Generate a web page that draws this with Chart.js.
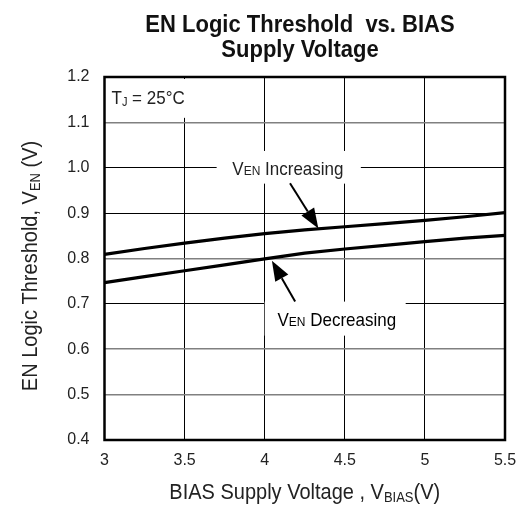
<!DOCTYPE html>
<html>
<head>
<meta charset="utf-8">
<script src="https://cdn.jsdelivr.net/npm/chart.js@4/dist/chart.umd.min.js"></script>
<style>
  html, body { margin: 0; padding: 0; background: #fff; }
  #wrap { width: 522px; height: 505px; position: relative; }
</style>
</head>
<body>
<div id="wrap"><canvas id="c" width="522" height="505"></canvas></div>
<script>
// ---- data ----
const biasVoltage = [3, 3.25, 3.5, 3.75, 4, 4.25, 4.5, 4.75, 5, 5.25, 5.5];
const venIncreasing = [0.809, 0.822, 0.834, 0.845, 0.855, 0.863, 0.870, 0.877, 0.884, 0.892, 0.901];
const venDecreasing = [0.747, 0.760, 0.773, 0.786, 0.799, 0.812, 0.821, 0.829, 0.837, 0.845, 0.851];
const xTickValues = [3, 3.5, 4, 4.5, 5, 5.5];
const yTickValues = [0.4, 0.5, 0.6, 0.7, 0.8, 0.9, 1.0, 1.1, 1.2];
const grayGridValues = [0.5, 0.6, 0.8, 1.1];

const FONT = '"Liberation Sans", Arial, sans-serif';
const STRETCH = 1.12; // reference text is slightly taller than normal

function toXY(xs, ys) { return xs.map((x, i) => ({ x: x, y: ys[i] })); }

function drawArrow(ctx, x1, y1, x2, y2) {
  const ang = Math.atan2(y2 - y1, x2 - x1);
  const headLen = 20, headW = 7.5;
  const bx = x2 - headLen * Math.cos(ang), by = y2 - headLen * Math.sin(ang);
  ctx.beginPath();
  ctx.moveTo(x1, y1);
  ctx.lineTo(bx, by);
  ctx.lineWidth = 2;
  ctx.strokeStyle = '#000';
  ctx.stroke();
  ctx.beginPath();
  ctx.moveTo(x2, y2);
  ctx.lineTo(bx + headW * Math.sin(ang), by - headW * Math.cos(ang));
  ctx.lineTo(bx - headW * Math.sin(ang), by + headW * Math.cos(ang));
  ctx.closePath();
  ctx.fillStyle = '#000';
  ctx.fill();
}

function stretchText(ctx, t, x, base) {
  ctx.save();
  ctx.translate(x, base);
  ctx.scale(1, STRETCH);
  ctx.fillText(t, 0, 0);
  ctx.restore();
}

// segments [{t, size, dy, bold}] centered horizontally at (cx, base)
function drawRich(ctx, segs, cx, base) {
  let total = 0;
  segs.forEach(s => {
    ctx.font = (s.bold ? 'bold ' : '') + s.size + 'px ' + FONT;
    s.w = ctx.measureText(s.t).width; total += s.w;
  });
  let x = cx - total / 2;
  ctx.textAlign = 'left';
  ctx.textBaseline = 'alphabetic';
  segs.forEach(s => {
    ctx.font = (s.bold ? 'bold ' : '') + s.size + 'px ' + FONT;
    stretchText(ctx, s.t, x, base + (s.dy || 0));
    x += s.w;
  });
}

const overlay = {
  id: 'overlay',
  beforeDatasetsDraw(chart) {
    const ctx = chart.ctx, xs = chart.scales.x, ys = chart.scales.y;
    const a = chart.chartArea;
    ctx.save();
    ctx.fillStyle = '#fff';
    // label backgrounds (hide gridlines)
    ctx.fillRect(a.left + 2, a.top + 2, xs.getPixelForValue(3.53) - a.left - 2, ys.getPixelForValue(1.11) - a.top - 2);
    ctx.fillRect(xs.getPixelForValue(3.7), ys.getPixelForValue(1.037), xs.getPixelForValue(4.6) - xs.getPixelForValue(3.7), ys.getPixelForValue(0.965) - ys.getPixelForValue(1.037));
    ctx.fillRect(xs.getPixelForValue(4.0), ys.getPixelForValue(0.705), xs.getPixelForValue(4.88) - xs.getPixelForValue(4.0), ys.getPixelForValue(0.63) - ys.getPixelForValue(0.705));
    ctx.restore();
  },
  afterDatasetsDraw(chart) {
    const ctx = chart.ctx, xs = chart.scales.x, ys = chart.scales.y;
    const a = chart.chartArea;
    ctx.save();
    ctx.fillStyle = '#222';
    // T_J label
    ctx.textAlign = 'left';
    ctx.textBaseline = 'alphabetic';
    let tx = a.left + 7, tb = a.top + 27;
    ctx.font = '17px ' + FONT; stretchText(ctx, 'T', tx, tb); tx += ctx.measureText('T').width;
    ctx.font = '11px ' + FONT; stretchText(ctx, 'J', tx, tb + 2); tx += ctx.measureText('J').width;
    ctx.font = '17px ' + FONT; stretchText(ctx, ' = 25°C', tx, tb);

    // annotations
    drawRich(ctx, [{t: 'V', size: 17}, {t: 'EN', size: 12}, {t: ' Increasing', size: 17}],
      xs.getPixelForValue(4.145), ys.getPixelForValue(0.985));
    drawArrow(ctx, xs.getPixelForValue(4.158), ys.getPixelForValue(0.966), xs.getPixelForValue(4.335), ys.getPixelForValue(0.866));
    drawRich(ctx, [{t: 'V', size: 17}, {t: 'EN', size: 12}, {t: ' Decreasing', size: 17}],
      xs.getPixelForValue(4.45), ys.getPixelForValue(0.652));
    drawArrow(ctx, xs.getPixelForValue(4.19), ys.getPixelForValue(0.705), xs.getPixelForValue(4.045), ys.getPixelForValue(0.795));

    // frame
    ctx.strokeStyle = '#000';
    ctx.lineWidth = 2.5;
    ctx.strokeRect(a.left, a.top, a.right - a.left, a.bottom - a.top);
    ctx.restore();
  },
  afterDraw(chart) {
    const ctx = chart.ctx, a = chart.chartArea;
    ctx.save();
    ctx.fillStyle = '#111';
    // title
    drawRich(ctx, [{t: 'EN Logic Threshold  vs. BIAS', size: 22, bold: true}], 300, 32);
    drawRich(ctx, [{t: 'Supply Voltage', size: 22, bold: true}], 300, 57);
    // x axis title
    ctx.fillStyle = '#222';
    drawRich(ctx, [{t: 'BIAS Supply Voltage , V', size: 20}, {t: 'BIAS', size: 13, dy: 3}, {t: '(V)', size: 20}],
      (a.left + a.right) / 2, 499);
    // y axis title
    ctx.save();
    ctx.translate(37, 266);
    ctx.rotate(-Math.PI / 2);
    drawRich(ctx, [{t: 'EN Logic Threshold, V', size: 20}, {t: 'EN', size: 13, dy: 3}, {t: ' (V)', size: 20}], 0, 0);
    ctx.restore();
    ctx.restore();
  }
};

new Chart(document.getElementById('c'), {
  type: 'line',
  data: {
    datasets: [
      { label: 'VEN Increasing', data: toXY(biasVoltage, venIncreasing), borderColor: '#000', borderWidth: 3.2, pointRadius: 0, tension: 0, fill: false },
      { label: 'VEN Decreasing', data: toXY(biasVoltage, venDecreasing), borderColor: '#000', borderWidth: 3.2, pointRadius: 0, tension: 0, fill: false }
    ]
  },
  options: {
    responsive: false,
    animation: false,
    devicePixelRatio: 1,
    layout: { padding: { left: 0, right: 17, top: 77, bottom: 0 } },
    plugins: { legend: { display: false }, title: { display: false }, tooltip: { enabled: false } },
    scales: {
      x: {
        type: 'linear', min: 3, max: 5.5,
        afterBuildTicks(s) { s.ticks = xTickValues.map(v => ({ value: v })); },
        afterFit(s) { s.height = 65; s.paddingLeft = 0; s.paddingRight = 0; },
        border: { display: false },
        grid: { color: '#000', lineWidth: 1, drawTicks: false },
        ticks: {
          color: '#222', font: { family: FONT, size: 16 }, padding: 11,
          callback: v => String(v)
        }
      },
      y: {
        type: 'linear', min: 0.4, max: 1.2,
        afterBuildTicks(s) { s.ticks = yTickValues.map(v => ({ value: v })); },
        afterFit(s) { s.width = 104.5; },
        border: { display: false },
        grid: {
          drawTicks: false,
          color: c => grayGridValues.some(g => Math.abs(g - c.tick.value) < 1e-6) ? '#808080' : '#000',
          lineWidth: c => grayGridValues.some(g => Math.abs(g - c.tick.value) < 1e-6) ? 1.6 : 1
        },
        ticks: {
          color: '#222', font: { family: FONT, size: 16 }, padding: 15,
          callback: v => v.toFixed(1)
        }
      }
    }
  },
  plugins: [overlay]
});
</script>
</body>
</html>
